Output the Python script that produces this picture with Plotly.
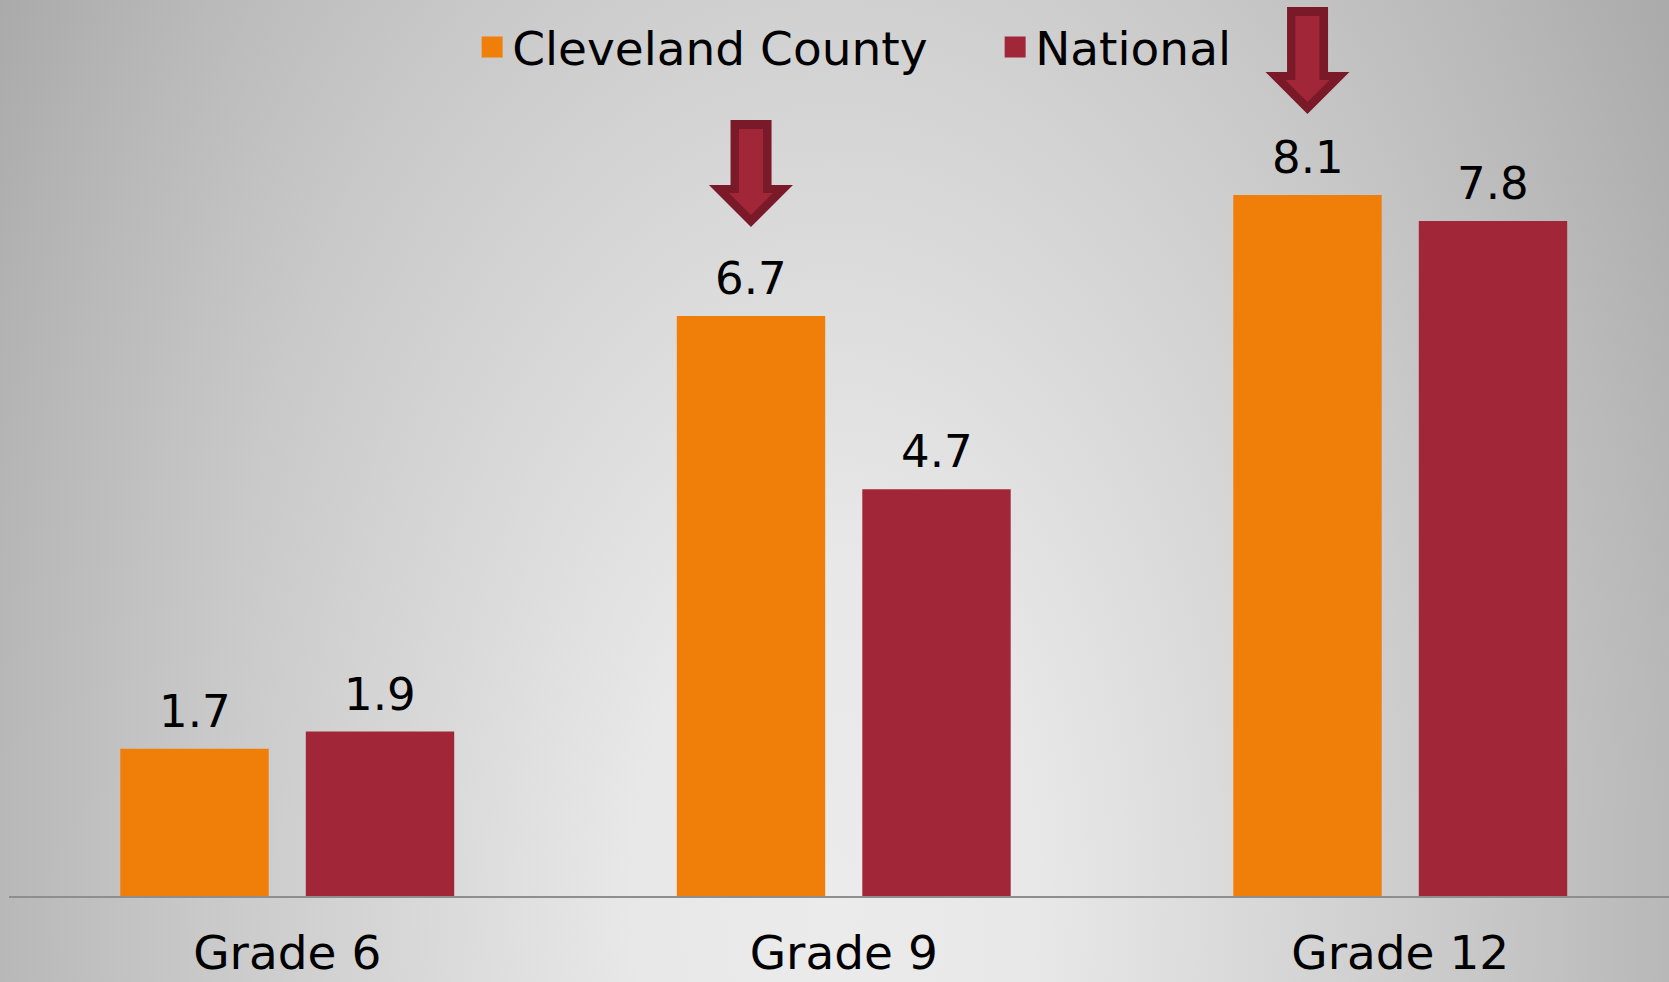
import base64
import plotly.graph_objects as go

# ---------------- data ----------------
categories = ["Grade 6", "Grade 9", "Grade 12"]
series_names = ["Cleveland County", "National"]
cleveland = [1.7, 6.7, 8.1]
national = [1.9, 4.7, 7.8]
highlighted = ["Grade 9", "Grade 12"]          # arrows drawn above the Cleveland County bars

# ---------------- style / layout constants ----------------
ORANGE = "#F07F09"
RED = "#A12738"
ARROW_EDGE = "#7A1A28"
FONT = "DejaVu Sans"

W, H = 1669, 982
ML, MR, MT, MB = 9, 0, 0, 86
PX_PER_UNIT = 86.55
CAT_PX = 556.5
plot_w = W - ML - MR
plot_h = H - MT - MB
x_range = [-0.5, -0.5 + plot_w / CAT_PX]
y_range = [0, plot_h / PX_PER_UNIT]
GROUP_PX = 371.0
BAR_OFFSET_PX = GROUP_PX / 4          # centre of each bar relative to category centre
ARROW_GAP = {"Grade 9": 89, "Grade 12": 81}   # px between bar top and arrow tip

# ---------------- background (radial gradient) ----------------
svg = f'''<svg xmlns="http://www.w3.org/2000/svg" width="{W}" height="{H}" viewBox="0 0 {W} {H}" preserveAspectRatio="none">
<defs><radialGradient id="g" gradientUnits="userSpaceOnUse" cx="835" cy="900" r="1000"
 gradientTransform="translate(835,900) scale(1,1.7) translate(-835,-900)">
<stop offset="0" stop-color="#EBEBEB"/>
<stop offset="0.2" stop-color="#E8E8E8"/>
<stop offset="0.63" stop-color="#C9C9C9"/>
<stop offset="0.835" stop-color="#B8B8B8"/>
<stop offset="1" stop-color="#A9A9A9"/>
</radialGradient></defs>
<rect x="0" y="0" width="{W}" height="{H}" fill="url(#g)"/></svg>'''
bg_src = "data:image/svg+xml;base64," + base64.b64encode(svg.encode()).decode()

colors = [ORANGE, RED]
fig = go.Figure()
for name, vals, col in zip(series_names, (cleveland, national), colors):
    fig.add_trace(go.Bar(x=categories, y=vals, name=name, legendgroup=name, showlegend=False,
                         marker=dict(color=col, line=dict(width=0))))
# legend entries (larger square swatches)
for name, col in zip(series_names, colors):
    fig.add_trace(go.Scatter(x=[None], y=[None], mode="markers", name=name, legendgroup=name,
                             showlegend=True, hoverinfo="skip",
                             marker=dict(symbol="square", size=16, color=col,
                                         line=dict(width=5, color=col))))

# value labels
annotations = []
for vals, sign in ((cleveland, -1), (national, 1)):
    for c, v in zip(categories, vals):
        annotations.append(dict(
            x=c, y=v, xref="x", yref="y", text=f"{v:.1f}", showarrow=False,
            xshift=sign * BAR_OFFSET_PX, yshift=9, yanchor="bottom", xanchor="center",
            font=dict(family=FONT, size=45, color="#000000")))

# block arrows above highlighted Cleveland bars
shapes = []
for c in highlighted:
    v = cleveland[categories.index(c)]
    g = ARROW_GAP[c]
    dx = -BAR_OFFSET_PX
    def P(pts):
        return "M" + " L".join(f"{dx + px:.1f},{g + py:.1f}" for px, py in pts) + " Z"
    outer = [(-20.5, 107), (20.5, 107), (20.5, 42), (42, 42), (0, 0), (-42, 42), (-20.5, 42)]
    inner = [(-12, 98), (12, 98), (12, 34), (22, 34), (0, 12), (-22, 34), (-12, 34)]
    for pts, col in ((outer, ARROW_EDGE), (inner, RED)):
        shapes.append(dict(type="path", xref="x", yref="y", xsizemode="pixel", ysizemode="pixel",
                           xanchor=c, yanchor=v, path=P(pts), fillcolor=col,
                           line=dict(width=0), layer="above"))

fig.update_layout(
    width=W, height=H,
    margin=dict(l=ML, r=MR, t=MT, b=MB, pad=0),
    paper_bgcolor="#D0D0D0", plot_bgcolor="rgba(0,0,0,0)",
    barmode="group", bargap=1 - GROUP_PX / CAT_PX, bargroupgap=0.2,
    font=dict(family=FONT, color="#000000"),
    showlegend=True,
    legend=dict(orientation="h", x=0.279, xanchor="left", y=1 - 10 / plot_h, yanchor="top",
                bgcolor="rgba(0,0,0,0)", font=dict(family=FONT, size=47, color="#000000"),
                entrywidth=478, entrywidthmode="pixels", traceorder="normal",
                itemsizing="trace"),
    xaxis=dict(range=x_range, showgrid=False, zeroline=False, showline=True,
               linecolor="#8E8E8E", linewidth=2, ticks="", fixedrange=True,
               tickfont=dict(family=FONT, size=47, color="#000000"),
               ticklabelstandoff=15, automargin=False),
    yaxis=dict(range=y_range, visible=False, showgrid=False, zeroline=False, fixedrange=True),
    annotations=annotations,
    shapes=shapes,
    images=[dict(source=bg_src, xref="paper", yref="paper",
                 x=-ML / plot_w, y=1 + MT / plot_h, sizex=W / plot_w, sizey=H / plot_h,
                 xanchor="left", yanchor="top", sizing="stretch", layer="below")],
)

fig.write_html("out.html", config={"displayModeBar": False},
               post_script="document.body.style.margin='0';document.body.style.overflow='hidden';")
